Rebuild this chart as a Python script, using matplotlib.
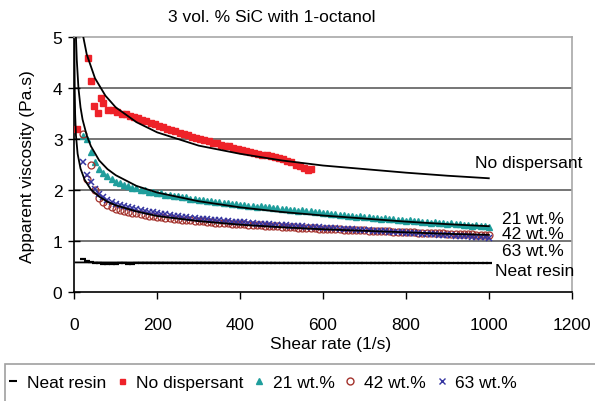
import matplotlib
matplotlib.use('Agg')
import matplotlib.pyplot as plt
import numpy as np
from matplotlib.lines import Line2D
from matplotlib.patches import Rectangle

plt.rcParams['font.family'] = ['Liberation Sans', 'DejaVu Sans']
FS = 12.5

# shear rate grid of the measured series (1/s)
rate = np.arange(20, 1001, 10)

# 21 wt.%
y21 = [3.05, 3.00, 2.75, 2.55, 2.42, 2.33, 2.27, 2.21, 2.16, 2.14,
       2.09, 2.08, 2.04, 2.03, 2.00, 2.00, 1.97, 1.96, 1.94, 1.94,
       1.91, 1.91, 1.88, 1.88, 1.86, 1.86, 1.83, 1.83, 1.81, 1.81,
       1.79, 1.79, 1.77, 1.77, 1.75, 1.74, 1.72, 1.73, 1.71, 1.71,
       1.69, 1.69, 1.67, 1.68, 1.66, 1.66, 1.64, 1.64, 1.63, 1.63,
       1.61, 1.61, 1.59, 1.60, 1.58, 1.58, 1.56, 1.56, 1.54, 1.55,
       1.53, 1.53, 1.51, 1.51, 1.49, 1.50, 1.48, 1.49, 1.47, 1.47,
       1.45, 1.46, 1.44, 1.45, 1.43, 1.43, 1.41, 1.42, 1.40, 1.41,
       1.39, 1.39, 1.37, 1.38, 1.36, 1.37, 1.35, 1.36, 1.34, 1.35,
       1.33, 1.33, 1.31, 1.32, 1.30, 1.31, 1.29, 1.29, 1.27]
# 42 wt.%
y42 = [3.10, 2.22, 2.50, 2.00, 1.85, 1.76, 1.70, 1.66, 1.63, 1.61,
       1.59, 1.57, 1.55, 1.54, 1.52, 1.51, 1.50, 1.49, 1.48, 1.47,
       1.46, 1.45, 1.44, 1.43, 1.42, 1.42, 1.41, 1.40, 1.39, 1.39,
       1.38, 1.37, 1.36, 1.36, 1.35, 1.35, 1.34, 1.34, 1.33, 1.33,
       1.32, 1.32, 1.31, 1.31, 1.30, 1.30, 1.29, 1.29, 1.28, 1.28,
       1.27, 1.27, 1.26, 1.26, 1.26, 1.25, 1.25, 1.24, 1.24, 1.24,
       1.23, 1.23, 1.23, 1.22, 1.22, 1.22, 1.21, 1.21, 1.21, 1.20,
       1.20, 1.20, 1.19, 1.19, 1.19, 1.18, 1.18, 1.18, 1.17, 1.17,
       1.17, 1.16, 1.16, 1.16, 1.16, 1.15, 1.15, 1.15, 1.14, 1.14,
       1.14, 1.13, 1.13, 1.13, 1.13, 1.12, 1.12, 1.12, 1.11]
# 63 wt.%
y63 = [2.55, 2.30, 2.15, 2.02, 1.93, 1.86, 1.81, 1.77, 1.73, 1.70,
       1.68, 1.66, 1.64, 1.62, 1.60, 1.58, 1.57, 1.56, 1.55, 1.53,
       1.52, 1.51, 1.50, 1.49, 1.48, 1.47, 1.46, 1.45, 1.44, 1.44,
       1.43, 1.42, 1.41, 1.41, 1.40, 1.39, 1.38, 1.38, 1.37, 1.37,
       1.36, 1.35, 1.34, 1.34, 1.33, 1.33, 1.32, 1.32, 1.31, 1.31,
       1.30, 1.30, 1.29, 1.29, 1.28, 1.28, 1.27, 1.27, 1.26, 1.26,
       1.25, 1.25, 1.24, 1.24, 1.23, 1.23, 1.22, 1.22, 1.21, 1.21,
       1.20, 1.20, 1.19, 1.19, 1.18, 1.18, 1.17, 1.17, 1.16, 1.16,
       1.15, 1.15, 1.14, 1.14, 1.13, 1.13, 1.12, 1.12, 1.11, 1.11,
       1.10, 1.10, 1.09, 1.09, 1.08, 1.08, 1.07, 1.07, 1.06]
# neat resin
y_neat = [0.65, 0.60, 0.58, 0.56, 0.56, 0.55, 0.55, 0.55, 0.55, 0.56,
          0.56, 0.55, 0.55, 0.56, 0.56, 0.56, 0.56, 0.56, 0.56, 0.57,
          0.57, 0.56, 0.56, 0.56, 0.56, 0.57, 0.57, 0.56, 0.56, 0.57,
          0.57, 0.57, 0.57, 0.57, 0.56, 0.56, 0.57, 0.57, 0.57, 0.56,
          0.56, 0.56, 0.57, 0.57, 0.57, 0.56, 0.56, 0.56, 0.57, 0.57,
          0.56, 0.56, 0.56, 0.57, 0.57, 0.56, 0.56, 0.56, 0.56, 0.57,
          0.56, 0.56, 0.56, 0.56, 0.57, 0.56, 0.56, 0.56, 0.56, 0.56,
          0.56, 0.56, 0.57, 0.57, 0.56, 0.56, 0.56, 0.56, 0.56, 0.56,
          0.56, 0.56, 0.57, 0.57, 0.56, 0.56, 0.56, 0.57, 0.57, 0.56,
          0.56, 0.56, 0.56, 0.56, 0.57, 0.57, 0.57, 0.57, 0.57]

# no dispersant (only measured up to ~570 1/s)
x_nd = [6, 34, 40, 47, 58, 64, 70, 82, 94, 104, 114, 124, 134, 144, 154,
        164, 174, 184, 194, 204, 214, 224, 234, 244, 254, 264, 274, 284,
        294, 304, 314, 324, 334, 344, 354, 364, 374, 384, 394, 404, 414,
        424, 434, 444, 454, 464, 474, 484, 494, 504, 514, 524, 534, 544,
        554, 564, 572]
y_nd = [3.20, 4.58, 4.13, 3.65, 3.51, 3.80, 3.71, 3.57, 3.56, 3.52, 3.49,
        3.50, 3.46, 3.43, 3.42, 3.38, 3.36, 3.31, 3.29, 3.26, 3.23, 3.20,
        3.18, 3.15, 3.12, 3.10, 3.07, 3.04, 3.02, 3.00, 2.99, 2.96, 2.93,
        2.92, 2.89, 2.87, 2.86, 2.82, 2.80, 2.79, 2.77, 2.74, 2.73, 2.71,
        2.69, 2.68, 2.66, 2.65, 2.63, 2.60, 2.56, 2.55, 2.50, 2.47, 2.43,
        2.40, 2.41]

# fitted curves (black lines)
x_fit_nd = [20, 30, 50, 75, 100, 150, 200, 300, 400, 500, 600, 700, 800, 900, 1000]
y_fit_nd = [5.07, 4.66, 4.19, 3.85, 3.62, 3.33, 3.13, 2.87, 2.71, 2.58,
            2.48, 2.41, 2.34, 2.28, 2.23]
x_fit_21 = [4, 6, 10, 15, 20, 30, 40, 60, 80, 100, 150, 200, 300, 400,
            500, 600, 700, 800, 900, 1000]
y_fit_21 = [5.0, 4.55, 4.0, 3.62, 3.38, 3.07, 2.86, 2.58, 2.41, 2.29,
            2.08, 1.95, 1.78, 1.66, 1.57, 1.50, 1.44, 1.38, 1.33, 1.29]
x_fit_42 = [0.3, 0.5, 1, 2, 4, 8, 15, 25, 40, 60, 80, 100, 150, 200, 300,
            400, 500, 600, 700, 800, 900, 1000]
y_fit_42 = [4.94, 4.50, 3.96, 3.49, 3.07, 2.71, 2.42, 2.20, 2.01, 1.87,
            1.77, 1.70, 1.58, 1.49, 1.39, 1.32, 1.27, 1.23, 1.20, 1.17,
            1.14, 1.12]
x_fit_neat = [3, 1000]
y_fit_neat = [0.58, 0.57]

labels = ['Neat resin', 'No dispersant', '21 wt.%', '42 wt.%', '63 wt.%']
c_red = '#ee2229'
c_teal = '#1f9e9c'
c_brown = '#a3322c'
c_blue = '#3535a0'

fig = plt.figure(figsize=(5.95, 4.02), dpi=100)
ax = fig.add_axes([74.3 / 595, 1 - 293 / 402, (571.7 - 74.3) / 595, (293 - 38) / 402])

ax.plot(x_nd, y_nd, ls='none', marker='s', ms=3.9, color=c_red, mec=c_red, zorder=3)
ax.plot(rate, y21, ls='none', marker='^', ms=4.6, color=c_teal, mec=c_teal, zorder=3)
ax.plot(rate, y42, ls='none', marker='o', ms=5.0, mfc='none', mec=c_brown, mew=0.9, zorder=3)
ax.plot(rate, y63, ls='none', marker='x', ms=4.4, color=c_blue, mew=1.1, zorder=4)
ax.plot(rate, y_neat, ls='none', marker='_', ms=5, color='black', mew=1.6, zorder=3)

for xf, yf in [(x_fit_nd, y_fit_nd), (x_fit_21, y_fit_21), (x_fit_42, y_fit_42),
               (x_fit_neat, y_fit_neat)]:
    ax.plot(xf, yf, color='black', lw=1.3, zorder=5)

ax.set_xlim(0, 1200)
ax.set_ylim(0, 5)
ax.set_xticks(np.arange(0, 1201, 200))
ax.set_yticks(np.arange(0, 6, 1))
ax.tick_params(axis='x', direction='out', length=5, width=1, pad=13, labelsize=FS)
ax.tick_params(axis='y', direction='inout', length=9, width=1, pad=4, labelsize=FS)
for yv in [1, 2, 3, 4]:
    ax.axhline(yv, color='#6a6a6a', lw=1.3, zorder=1)
ax.spines['left'].set_color('black')
ax.spines['bottom'].set_color('black')
ax.spines['left'].set_linewidth(1.2)
ax.spines['bottom'].set_linewidth(1.2)
for s in ['top', 'right']:
    ax.spines[s].set_color('#a8a8a8')
    ax.spines[s].set_linewidth(1.2)

# curve labels
ax.text(967, 2.53, 'No dispersant', fontsize=FS, va='center', ha='left')
ax.text(1032, 1.45, '21 wt.%', fontsize=FS, va='center', ha='left')
ax.text(1032, 1.14, '42 wt.%', fontsize=FS, va='center', ha='left')
ax.text(1032, 0.81, '63 wt.%', fontsize=FS, va='center', ha='left')
ax.text(1015, 0.42, 'Neat resin', fontsize=FS, va='center', ha='left')

fig.text(271.5 / 595, 1 - 17 / 402, '3 vol. % SiC with 1-octanol', fontsize=FS,
         ha='center', va='center')
fig.text(28 / 595, 1 - 167 / 402, 'Apparent viscosity (Pa.s)', fontsize=FS,
         ha='center', va='center', rotation=90)
fig.text(331 / 595, 1 - 345 / 402, 'Shear rate (1/s)', fontsize=FS,
         ha='center', va='center')

# legend box at the bottom
fig.patches.append(Rectangle((5 / 595, -0.05), 1.0, (402 - 365) / 402 + 0.05,
                             transform=fig.transFigure, facecolor='white',
                             edgecolor='#a0a0a0', lw=1.2))
handles = [
    Line2D([], [], ls='none', marker='_', ms=6, color='black', mew=1.5),
    Line2D([], [], ls='none', marker='s', ms=3.6, color=c_red),
    Line2D([], [], ls='none', marker='^', ms=4.2, color=c_teal),
    Line2D([], [], ls='none', marker='o', ms=5, mfc='none', mec=c_brown, mew=1.0),
    Line2D([], [], ls='none', marker='x', ms=4.0, color=c_blue, mew=1.0),
]
fig.legend(handles, labels, loc='center left', bbox_to_anchor=(8 / 595, 1 - 383 / 402),
           ncol=5, frameon=False, fontsize=FS, handlelength=0.6, handletextpad=0.5,
           columnspacing=0.6, borderpad=0, borderaxespad=0)

fig.savefig('out.png', dpi=100)
